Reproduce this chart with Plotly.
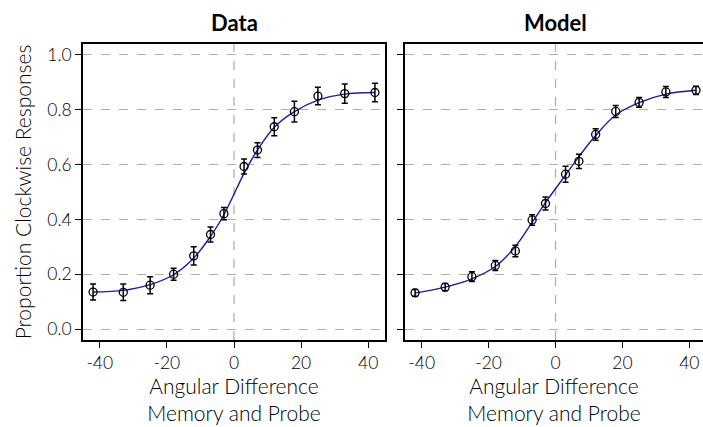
import plotly.graph_objects as go

angles = [-42, -33, -25, -18, -12, -7, -3, 3, 7, 12, 18, 25, 33, 42]

data_mean = [0.135, 0.134, 0.160, 0.200, 0.267, 0.345, 0.421, 0.593, 0.653, 0.738, 0.793, 0.850, 0.859, 0.863]
data_err = [0.029, 0.030, 0.031, 0.022, 0.033, 0.027, 0.022, 0.027, 0.027, 0.033, 0.038, 0.032, 0.035, 0.034]
data_fit = [0.135, 0.141, 0.162, 0.198, 0.259, 0.338, 0.417, 0.568, 0.653, 0.736, 0.793, 0.835, 0.857, 0.863]

model_mean = [0.132, 0.153, 0.191, 0.232, 0.285, 0.398, 0.458, 0.565, 0.612, 0.710, 0.794, 0.827, 0.865, 0.871]
model_err = [0.012, 0.013, 0.018, 0.018, 0.021, 0.019, 0.024, 0.029, 0.026, 0.021, 0.022, 0.018, 0.020, 0.015]
model_fit = [0.131, 0.153, 0.183, 0.228, 0.301, 0.389, 0.461, 0.562, 0.629, 0.706, 0.781, 0.826, 0.857, 0.871]

panel_titles = ["Data", "Model"]
x_ticks = [-40, -20, 0, 20, 40]
x_tick_labels = ["-40", "-20", "0", "20", "40"]
y_ticks = [0.0, 0.2, 0.4, 0.6, 0.8, 1.0]
y_tick_labels = ["0.0", "0.2", "0.4", "0.6", "0.8", "1.0"]

FONT = "Lato"
LINE_COLOR = "#1c1ca0"

fig = go.Figure()

for i, (mean, err, fit) in enumerate([(data_mean, data_err, data_fit), (model_mean, model_err, model_fit)]):
    xa = "x" if i == 0 else "x2"
    ya = "y" if i == 0 else "y2"
    fig.add_trace(go.Scatter(x=angles, y=fit, mode="lines", line=dict(color=LINE_COLOR, width=1.4, shape="spline", smoothing=1.0),
                             xaxis=xa, yaxis=ya, showlegend=False, hoverinfo="skip"))
    fig.add_trace(go.Scatter(x=angles, y=mean, mode="markers",
                             marker=dict(symbol="circle-open", size=8, color="black", line=dict(width=1.3, color="black")),
                             error_y=dict(type="data", array=err, visible=True, color="black", thickness=1.5, width=3),
                             xaxis=xa, yaxis=ya, showlegend=False, cliponaxis=False))

axis_common = dict(showline=True, linecolor="black", linewidth=1.5, ticks="outside", ticklen=6, tickwidth=1.2,
                   tickcolor="black", automargin=False,
                   tickfont=dict(family=FONT, size=17.5, color="black", weight=300))

title_font = dict(family=FONT, size=21, color="black", weight=300)

fig.update_layout(
    width=703, height=427,
    margin=dict(l=83, r=0, t=44, b=87),
    plot_bgcolor="white", paper_bgcolor="white",
    font=dict(family=FONT, color="black"),
    xaxis=dict(domain=[0, 0.4871], range=[-45, 45], tickvals=x_ticks, ticktext=x_tick_labels, mirror=True,
               showgrid=False, zeroline=False,
               title=dict(text="Angular Difference<br>Memory and Probe", font=title_font, standoff=3),
               **axis_common),
    xaxis2=dict(domain=[0.5194, 1.0], range=[-45, 44.1], tickvals=x_ticks, ticktext=x_tick_labels, mirror=True,
                showgrid=False, zeroline=False,
                title=dict(text="Angular Difference<br>Memory and Probe", font=title_font, standoff=3),
                **axis_common),
    yaxis=dict(range=[-0.04, 1.04], tickvals=y_ticks, ticktext=y_tick_labels, mirror=True, showgrid=True,
               gridcolor="#b0b0b0", griddash="dash", gridwidth=1.3, zeroline=False,
               title=dict(text="Proportion Clockwise Responses", font=title_font, standoff=10),
               **axis_common),
    yaxis2=dict(range=[-0.04, 1.04], tickvals=y_ticks, showticklabels=False, anchor="x2", mirror=False, showgrid=True,
                gridcolor="#b0b0b0", griddash="dash", gridwidth=1.3, zeroline=False, **axis_common),
)

for xa, ya in [("x", "y"), ("x2", "y2")]:
    fig.add_shape(type="line", xref=xa, yref=f"{ya} domain", x0=0, x1=0, y0=0, y1=1,
                  line=dict(color="#b0b0b0", width=1.3, dash="dash"), layer="below")

fig.add_annotation(text="<b>" + panel_titles[0] + "</b>", xref="x", yref="paper", x=0, y=1, yshift=22,
                   yanchor="middle", showarrow=False, font=dict(family=FONT, size=22, color="black"))
fig.add_annotation(text="<b>" + panel_titles[1] + "</b>", xref="x2", yref="paper", x=0, y=1, yshift=22,
                   yanchor="middle", showarrow=False, font=dict(family=FONT, size=22, color="black"))

fig.write_html("out.html",
               config={"displayModeBar": False},
               post_script="document.body.style.margin='0';document.body.style.overflow='hidden';")
